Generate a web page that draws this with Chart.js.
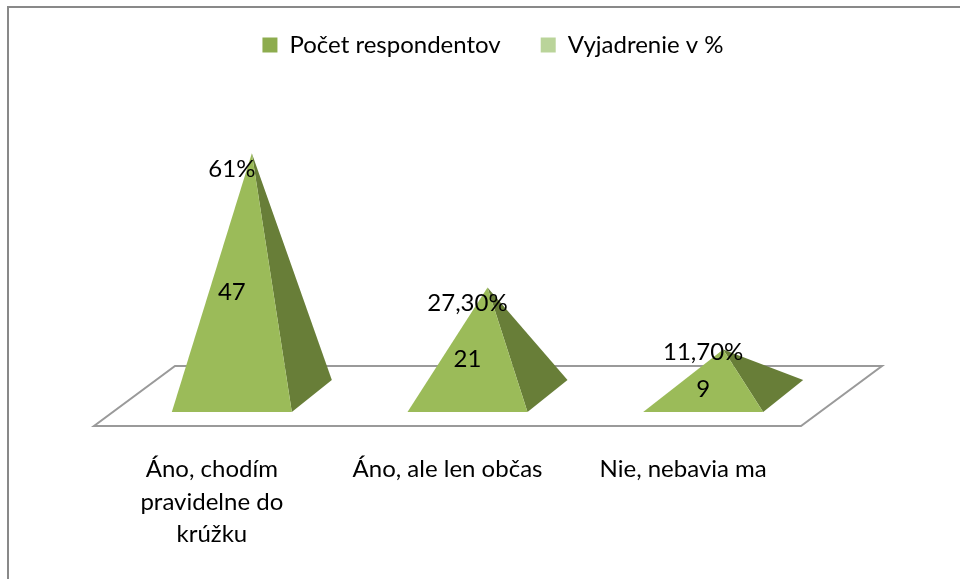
<!DOCTYPE html>
<html>
<head>
<meta charset="utf-8">
<style>
  body { margin: 0; background: #fff; }
</style>
</head>
<body>
<canvas id="myChart" width="960" height="579"></canvas>
<script src="https://cdn.jsdelivr.net/npm/chart.js"></script>
<script>
    const categories = [['Áno, chodím', 'pravidelne do', 'krúžku'], 'Áno, ale len občas', 'Nie, nebavia ma'];
    const respondents = [47, 21, 9];
    const percents = [0.61, 0.273, 0.117];
    const percentLabels = ['61%', '27,30%', '11,70%'];

    const FONT = 'Lato';
    const FRONT = '#9BBB59';
    const SIDE = '#687E38';
    const halfW = 60;      // half width of a pyramid base
    const depthX = 40;     // depth of a pyramid base
    const depthY = 32;
    const floorDX = 81;    // depth of the floor
    const floorDY = 60;

    // chart frame (top and left line)
    const frame = {
        id: 'frame',
        beforeDraw(chart) {
            let ctx = chart.ctx;
            ctx.save();
            ctx.strokeStyle = '#898989';
            ctx.lineWidth = 2;
            ctx.beginPath();
            ctx.moveTo(8, chart.height);
            ctx.lineTo(8, 7);
            ctx.lineTo(chart.width, 7);
            ctx.stroke();
            ctx.restore();
        }
    };

    // fixed legend block height, so the plot starts lower
    const legendGap = {
        id: 'legendGap',
        beforeInit(chart) {
            const fit = chart.legend.fit;
            chart.legend.fit = function () {
                fit.call(this);
                this.height = 148;
            };
        }
    };

    const pyramids = {
        id: 'pyramids',
        beforeDatasetDraw() {
            return false; // bars are replaced by pyramids below
        },
        beforeDatasetsDraw(chart) {
            let ctx = chart.ctx;
            let ca = chart.chartArea;
            let y0 = chart.scales.y.getPixelForValue(0);
            ctx.save();
            ctx.strokeStyle = '#9a9a9a';
            ctx.lineWidth = 2;
            ctx.fillStyle = '#fff';
            ctx.beginPath();
            ctx.moveTo(ca.left, y0 + floorDY / 2);
            ctx.lineTo(ca.right, y0 + floorDY / 2);
            ctx.lineTo(ca.right + floorDX, y0 - floorDY / 2);
            ctx.lineTo(ca.left + floorDX, y0 - floorDY / 2);
            ctx.closePath();
            ctx.fill();
            ctx.stroke();
            ctx.restore();
        },
        afterDatasetsDraw(chart) {
            let ctx = chart.ctx;
            let m0 = chart.getDatasetMeta(0);
            let m1 = chart.getDatasetMeta(1);
            ctx.save();
            m0.data.forEach(function (bar, i) {
                let base = bar.base;
                let top = m1.data[i].y;
                let fx = bar.x + 20;
                let fy = base + depthY / 2;
                let ax = fx + depthX / 2;

                ctx.fillStyle = SIDE;
                ctx.beginPath();
                ctx.moveTo(fx + halfW, fy);
                ctx.lineTo(fx + halfW + depthX, fy - depthY);
                ctx.lineTo(ax, top);
                ctx.closePath();
                ctx.fill();

                ctx.fillStyle = FRONT;
                ctx.beginPath();
                ctx.moveTo(fx - halfW, fy);
                ctx.lineTo(fx + halfW, fy);
                ctx.lineTo(ax, top);
                ctx.closePath();
                ctx.fill();

                ctx.fillStyle = '#000';
                ctx.font = '24px ' + FONT;
                ctx.textAlign = 'center';
                ctx.textBaseline = 'middle';
                ctx.fillText(String(respondents[i]), fx, (bar.y + base + 33) / 2);
                ctx.fillText(percentLabels[i], fx, Math.min(top + 16, base - 44));
            });
            ctx.restore();
        }
    };

    const data = {
        labels: categories,
        datasets: [{
            label: 'Počet respondentov',
            backgroundColor: '#8DAC4E',
            data: respondents,
        }, {
            label: 'Vyjadrenie v %',
            backgroundColor: '#BAD49A',
            data: percents,
        }],
    };

    const config = {
        type: 'bar',
        data: data,
        options: {
            responsive: false,
            animation: false,
            devicePixelRatio: 1,
            layout: {
                padding: { top: -7, left: 26, right: 0, bottom: 24 }
            },
            plugins: {
                tooltip: { enabled: false },
                legend: {
                    position: 'top',
                    labels: {
                        boxWidth: 15,
                        boxHeight: 15,
                        padding: 40,
                        color: '#000',
                        font: { family: FONT, size: 24 }
                    }
                }
            },
            scales: {
                x: {
                    stacked: true,
                    grid: { display: false, drawTicks: false },
                    border: { display: false },
                    ticks: {
                        color: '#000',
                        padding: 57,
                        maxRotation: 0,
                        autoSkip: false,
                        font: { family: FONT, size: 24, lineHeight: 1.36 }
                    },
                    afterFit(scale) {
                        scale.height = 159;
                    }
                },
                y: {
                    stacked: true,
                    min: 0,
                    max: 50,
                    grid: { display: false, drawTicks: false },
                    border: { display: false },
                    ticks: { display: false },
                    afterFit(scale) {
                        scale.width = 68;
                    }
                },
                y2: {
                    position: 'right',
                    min: 0,
                    max: 1,
                    grid: { display: false, drawTicks: false },
                    border: { display: false },
                    ticks: { display: false },
                    afterFit(scale) {
                        scale.width = 159;
                    }
                }
            }
        },
        plugins: [frame, legendGap, pyramids]
    };

    new Chart(document.getElementById('myChart'), config);
</script>
</body>
</html>
